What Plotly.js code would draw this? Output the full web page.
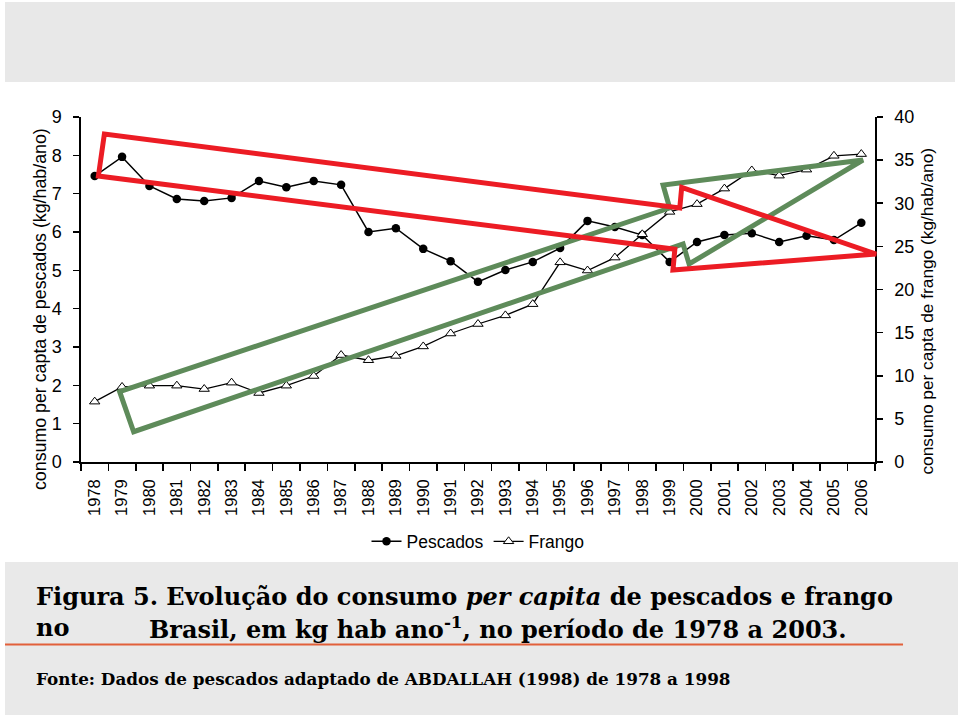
<!DOCTYPE html>
<html><head><meta charset="utf-8">
<script src="https://cdn.plot.ly/plotly-3.0.1.min.js"></script>
<style>html,body{margin:0;padding:0;background:#fff}#chart{width:960px;height:718px}</style>
</head><body><div id="chart"></div>
<script>
const years = ['1978','1979','1980','1981','1982','1983','1984','1985','1986','1987','1988','1989','1990','1991','1992','1993','1994','1995','1996','1997','1998','1999','2000','2001','2002','2003','2004','2005','2006'];
const pescados = [7.46,7.96,7.20,6.86,6.81,6.89,7.33,7.17,7.33,7.23,6.00,6.10,5.56,5.24,4.70,5.01,5.22,5.58,6.29,6.13,5.92,5.22,5.74,5.92,5.97,5.74,5.90,5.79,6.24];
const frango = [7.0,8.7,8.85,8.85,8.46,9.2,8.0,8.85,9.97,12.4,11.8,12.3,13.4,14.9,16.0,17.0,18.3,23.15,22.2,23.7,26.4,29.0,29.9,31.7,33.8,33.2,33.9,35.5,35.7];
const seriesNames = ['Pescados','Frango'];
const yLeftTitle = 'consumo per capta de pescados (kg/hab/ano)';
const yRightTitle = 'consumo per capta de frango (kg/hab/ano)';
const caption1 = '<b>Figura 5. Evolução do consumo <i>per capita</i> de pescados e frango</b>';
const caption2a = '<b>no</b>';
const caption2b = '<b>Brasil, em kg hab ano<sup>-1</sup>, no período de 1978 a 2003.</b>';
const source = '<b>Fonte: Dados de pescados adaptado de ABDALLAH (1998) de 1978 a 1998</b>';
// highlight arrows: x in category index, y in left-axis units
const redArrowX = [0.135, 0.354, 21.37, 21.44, 28.54, 21.12, 21.19];
const redArrowY = [7.461, 8.557, 6.626, 7.166, 5.426, 5.009, 5.549];
const greenArrowX = [0.912, 21.00, 20.76, 28.06, 21.71, 21.49, 1.423];
const greenArrowY = [1.834, 6.626, 7.226, 7.878, 5.165, 5.687, 0.790];

const yLeftMax = 9, yRightMax = 40;
function toPaperPath(xs, ys){
  return xs.map((x,i)=> (i ? 'L' : 'M') + ((x+0.5)/years.length).toFixed(5) + ',' + (ys[i]/yLeftMax).toFixed(5)).join(' ') + ' Z';
}
const sans = 'Liberation Sans, Arial, sans-serif';
const serif = 'DejaVu Serif, serif';

const traces = [
  {x: years, y: pescados, name: seriesNames[0], type: 'scatter', mode: 'lines+markers', yaxis: 'y',
   line: {color: '#000', width: 1.5}, marker: {symbol: 'circle', size: 8.5, color: '#000'}, cliponaxis: false},
  {x: years, y: frango, name: seriesNames[1], type: 'scatter', mode: 'lines+markers', yaxis: 'y2',
   line: {color: '#000', width: 1.3}, marker: {symbol: 'triangle-up', size: 9, color: '#fff', line: {color: '#000', width: 1}}, cliponaxis: false}
];

const axisCommon = {showgrid: false, zeroline: false, showline: true, linecolor: '#000', linewidth: 1.6,
  ticks: 'outside', tickcolor: '#000', tickwidth: 1.6, fixedrange: true};

const layout = {
  width: 960, height: 718,
  margin: {l: 81, r: 85, t: 117, b: 256},
  paper_bgcolor: '#fff', plot_bgcolor: 'rgba(0,0,0,0)',
  font: {family: sans, color: '#000'},
  xaxis: Object.assign({}, axisCommon, {type: 'category', range: [-0.5, 28.5], tickangle: -90, tickson: 'boundaries',
    ticklen: 7, tickfont: {family: sans, size: 16.5, color: '#000'}, ticklabelstandoff: 9}),
  yaxis: Object.assign({}, axisCommon, {range: [0, yLeftMax], tick0: 0, dtick: 1, ticklen: 6,
    tickfont: {family: sans, size: 18, color: '#000'}, ticklabelstandoff: 8}),
  yaxis2: Object.assign({}, axisCommon, {overlaying: 'y', side: 'right', range: [0, yRightMax], tick0: 0, dtick: 5, ticklen: 6,
    tickfont: {family: sans, size: 18, color: '#000'}, ticklabelstandoff: 8}),
  showlegend: true,
  legend: {orientation: 'h', x: 0.5, xanchor: 'center', y: -0.178, yanchor: 'top', font: {family: sans, size: 17.5, color: '#000'},
    bgcolor: 'rgba(0,0,0,0)', traceorder: 'normal'},
  shapes: [
    {type: 'rect', xref: 'paper', yref: 'paper', x0: -0.0957, x1: 1.1008, y0: 1.1014, y1: 1.3333, fillcolor: '#e8e8e8', line: {width: 0}, layer: 'below'},
    {type: 'rect', xref: 'paper', yref: 'paper', x0: -0.0957, x1: 1.1045, y0: -0.7333, y1: -0.2899, fillcolor: '#e9e9e9', line: {width: 0}, layer: 'below'},
    {type: 'line', xref: 'paper', yref: 'paper', x0: -0.0957, x1: 1.0353, y0: -0.529, y1: -0.529, line: {color: '#e2603a', width: 2}, layer: 'below'},
    {type: 'path', xref: 'paper', yref: 'paper', path: toPaperPath(greenArrowX, greenArrowY), line: {color: '#5e8b5a', width: 5}, layer: 'above'},
    {type: 'path', xref: 'paper', yref: 'paper', path: toPaperPath(redArrowX, redArrowY), line: {color: '#ec1c24', width: 5}, layer: 'above'}
  ],
  annotations: [
    {text: yLeftTitle, xref: 'paper', yref: 'paper', x: -0.0516, y: 0.4435, textangle: -90, showarrow: false,
     xanchor: 'center', yanchor: 'middle', font: {family: sans, size: 17.8, color: '#000'}},
    {text: yRightTitle, xref: 'paper', yref: 'paper', x: 1.0655, y: 0.436, textangle: -90, showarrow: false,
     xanchor: 'center', yanchor: 'middle', font: {family: sans, size: 17.3, color: '#000'}},
    {text: caption1, xref: 'paper', yref: 'paper', x: -0.0592, y: -0.391, xanchor: 'left', yanchor: 'middle', showarrow: false,
     font: {family: serif, size: 24, color: '#000'}},
    {text: caption2a, xref: 'paper', yref: 'paper', x: -0.0592, y: -0.481, xanchor: 'left', yanchor: 'middle', showarrow: false,
     font: {family: serif, size: 24, color: '#000'}},
    {text: caption2b, xref: 'paper', yref: 'paper', x: 0.0831, y: -0.481, xanchor: 'left', yanchor: 'middle', showarrow: false,
     font: {family: serif, size: 24, color: '#000'}},
    {text: source, xref: 'paper', yref: 'paper', x: -0.0592, y: -0.628, xanchor: 'left', yanchor: 'middle', showarrow: false,
     font: {family: serif, size: 16.8, color: '#000'}}
  ]
};

Plotly.newPlot('chart', traces, layout, {displayModeBar: false, staticPlot: true});
</script>
</body></html>
